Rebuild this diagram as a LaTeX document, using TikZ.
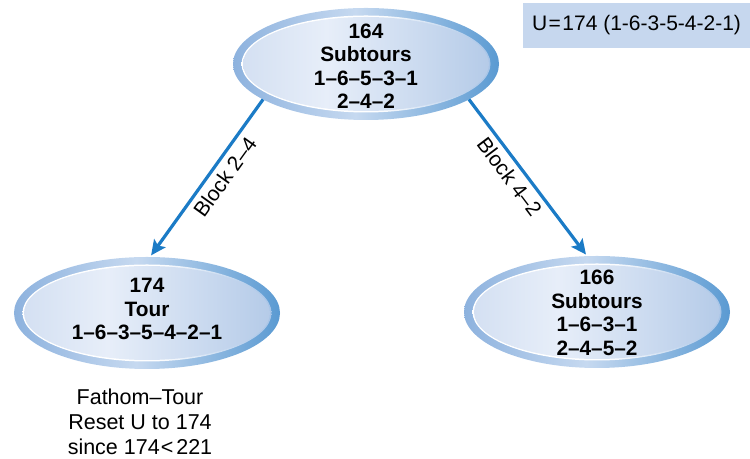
\documentclass[tikz,border=0pt]{standalone}
\usepackage{fontspec}
\setmainfont{Liberation Sans}
\usetikzlibrary{shapes.geometric,arrows.meta}

\definecolor{arrowblue}{HTML}{1B7BC6}
\definecolor{boxfill}{HTML}{C6D7EE}
\definecolor{ringL}{HTML}{8DB2DE}
\definecolor{ringM}{HTML}{C6D9F0}
\definecolor{ringR}{HTML}{5A9AD2}
\definecolor{glowR}{HTML}{9FBFE5}
\definecolor{inL}{HTML}{D4E0F2}
\definecolor{inM}{HTML}{E7EEF9}
\definecolor{inR}{HTML}{B5CBE8}

% the filled path spans the 25bp..75bp band of each shading
\pgfdeclarehorizontalshading{ringshade}{100bp}{color(0bp)=(ringL); color(25bp)=(ringL); color(48bp)=(ringM); color(75bp)=(ringR); color(100bp)=(ringR)}
\pgfdeclarehorizontalshading{glowshade}{100bp}{color(0bp)=(white); color(25bp)=(white); color(52bp)=(white); color(75bp)=(glowR); color(100bp)=(glowR)}
\pgfdeclarehorizontalshading{innershade}{100bp}{color(0bp)=(inL); color(25bp)=(inL); color(42bp)=(inM); color(75bp)=(inR); color(100bp)=(inR)}

\tikzset{
  x=1bp, y=1bp,
  bubble/.style={ellipse, minimum width=266bp, minimum height=112bp,
    inner sep=0pt, outer sep=0pt, shading=ringshade,
    path picture={
      \shade[shading=glowshade] (path picture bounding box.center) ellipse [x radius=124.5bp, y radius=48.5bp];
      \shade[shading=innershade] (path picture bounding box.center) ellipse [x radius=123bp, y radius=47bp];
    }},
  bubbletext/.style={align=center, font=\fontsize{20.8bp}{23.5bp}\selectfont\bfseries, inner sep=0pt},
  branch/.style={-{Stealth[length=15bp,width=14bp,inset=3bp]}, line width=3.2bp, draw=arrowblue, shorten >=2bp},
  branchlabel/.style={sloped, below, pos=0.44, inner sep=5bp, font=\fontsize{21bp}{24bp}\selectfont},
  plain/.style={align=center, font=\fontsize{21.5bp}{25bp}\selectfont, inner sep=0pt}
}

\begin{document}
\begin{tikzpicture}
\useasboundingbox (0,0) rectangle (750,459);

% incumbent bound
\node[fill=boxfill, minimum width=227bp, minimum height=45bp, inner sep=0pt,
      font=\fontsize{21bp}{24bp}\selectfont] (ub) at (636.5,433.5)
  {U\kern1.5bp=\kern1.5bp174 (1-6-3-5-4-2-1)};

% tree nodes
\node[bubble] (root) at (366,395) {};
\node[bubbletext] (root-t) at (366,393) {164\\Subtours\\1–6–5–3–1\\2–4–2};

\node[bubble] (lft) at (147,146) {};
\node[bubbletext] (lft-t) at (147,150) {174\\Tour\\1–6–3–5–4–2–1};

\node[bubble] (rgt) at (597,147) {};
\node[bubbletext] (rgt-t) at (597,146) {166\\Subtours\\1–6–3–1\\2–4–5–2};

% branches
\draw[branch] (root.199) -- node[branchlabel] {Block 2–4} (lft.87);
\draw[branch] (root.341) -- node[branchlabel] {Block 4–2} (rgt.100);

% fathoming note
\node[plain] (note) at (140,37) {Fathom–Tour\\Reset U to 174\\since 174\kern1bp<\kern3bp221};
\end{tikzpicture}
\end{document}
